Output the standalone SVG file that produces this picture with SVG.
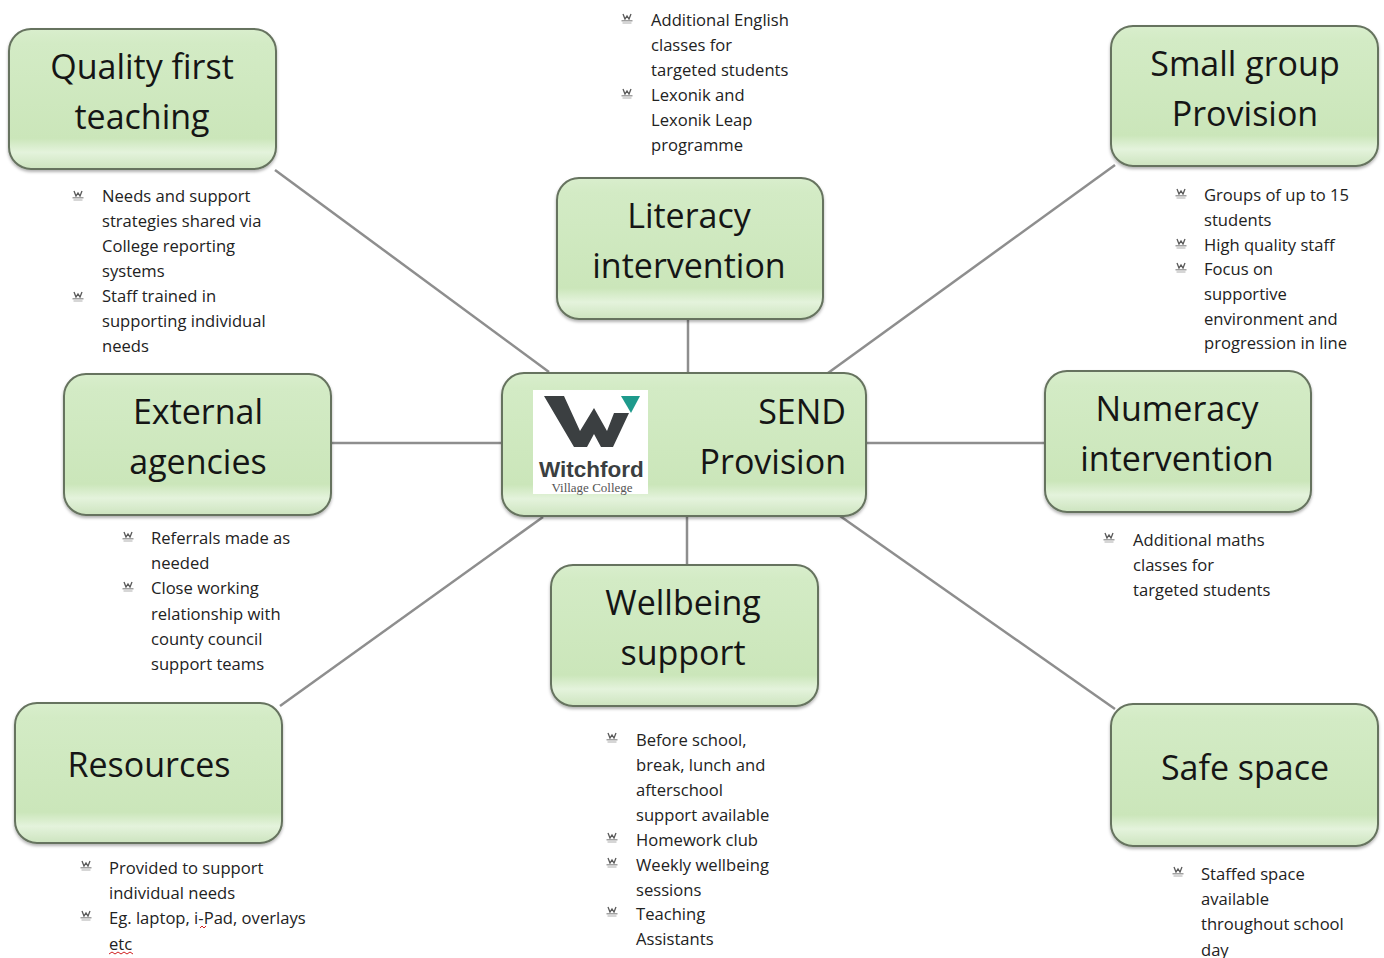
<svg xmlns="http://www.w3.org/2000/svg" xmlns:xlink="http://www.w3.org/1999/xlink" width="1384" height="958" viewBox="0 0 1384 958">
<defs>
<linearGradient id="g" x1="0" y1="0" x2="0" y2="1">
<stop offset="0" stop-color="#d9eecd"/>
<stop offset="0.1" stop-color="#d3ebc5"/>
<stop offset="0.78" stop-color="#cbe6ba"/>
<stop offset="0.88" stop-color="#e4f3dc"/>
<stop offset="1" stop-color="#cde4bf"/>
</linearGradient>
<filter id="sh" x="-10%" y="-10%" width="120%" height="130%">
<feDropShadow dx="0" dy="2" stdDeviation="1.5" flood-color="#000" flood-opacity="0.3"/>
</filter>
<symbol id="b" viewBox="0 0 12 11" width="12" height="11">
<polyline points="2,1 4,6 6,3 8,6 10,1" fill="none" stroke="#5a5a5a" stroke-width="1.3"/>
<line x1="0.5" y1="7.8" x2="11.5" y2="7.8" stroke="#8a8a8a" stroke-width="1.2"/>
<line x1="1.5" y1="10" x2="10.5" y2="10" stroke="#b5b5b5" stroke-width="1.1"/>
</symbol>
</defs>
<style>
.box{fill:url(#g);stroke:#66735f;stroke-width:2;filter:url(#sh)}
.lbl{font-family:"Open Sans","Noto Sans","Liberation Sans",sans-serif;font-size:34px;fill:#151515;text-anchor:middle}
.bt{font-family:"Open Sans","Noto Sans","Liberation Sans",sans-serif;font-size:16.6px;fill:#222222}
.con line{stroke:#8e8e8e;stroke-width:2.5}
</style>
<rect width="1384" height="958" fill="#ffffff"/>
<g id="connectors" class="con">
<line x1="275" y1="170" x2="549" y2="372"/>
<line x1="688" y1="319" x2="688" y2="374"/>
<line x1="1115" y1="165" x2="828" y2="373"/>
<line x1="331" y1="443" x2="503" y2="443"/>
<line x1="865" y1="443" x2="1046" y2="443"/>
<line x1="687" y1="515" x2="687" y2="566"/>
<line x1="543" y1="517" x2="280" y2="706"/>
<line x1="840" y1="516" x2="1115" y2="709"/>
</g>
<g id="send">
<rect class="box" x="502" y="373" width="364" height="143" rx="22"/>
<rect x="533" y="390" width="115" height="104" fill="#ffffff"/>
<polygon points="544,396 564,396 580,431 594,408 607,431 614,413 629,413 613,447 601,447 594,434 587,447 574,447" fill="#3b3f41"/>
<polygon points="621,396 640,396 631,413" fill="#1e9a8c"/>
<text x="539" y="477" font-family="'Liberation Sans',Arial,sans-serif" font-size="22.5" font-weight="bold" fill="#3b3f41">Witchford</text>
<text x="592" y="492" font-family="'Liberation Serif','Times New Roman',serif" font-size="13" fill="#555" text-anchor="middle">Village College</text>
<text class="lbl" x="846" y="424" style="text-anchor:end">SEND</text>
<text class="lbl" x="846" y="474" style="text-anchor:end">Provision</text>
</g>
<g id="quality">
<rect class="box" x="9" y="29" width="267" height="140" rx="22"/>
<text class="lbl" x="142" y="79">Quality first</text>
<text class="lbl" x="142" y="129">teaching</text>
<use href="#b" x="72" y="190"/><use href="#b" x="72" y="291"/>
<text class="bt" x="102" y="202"><tspan x="102">Needs and support</tspan><tspan x="102" dy="25">strategies shared via</tspan><tspan x="102" dy="25">College reporting</tspan><tspan x="102" dy="25">systems</tspan><tspan x="102" dy="25">Staff trained in</tspan><tspan x="102" dy="25">supporting individual</tspan><tspan x="102" dy="25">needs</tspan></text>
</g>
<g id="literacy">
<rect class="box" x="557" y="178" width="266" height="141" rx="22"/>
<text class="lbl" x="689" y="228">Literacy</text>
<text class="lbl" x="689" y="278">intervention</text>
<use href="#b" x="621" y="13"/><use href="#b" x="621" y="88"/>
<text class="bt" x="651" y="26"><tspan x="651">Additional English</tspan><tspan x="651" dy="25">classes for</tspan><tspan x="651" dy="25">targeted students</tspan><tspan x="651" dy="25">Lexonik and</tspan><tspan x="651" dy="25">Lexonik Leap</tspan><tspan x="651" dy="25">programme</tspan></text>
</g>
<g id="smallgroup">
<rect class="box" x="1111" y="26" width="267" height="140" rx="22"/>
<text class="lbl" x="1245" y="76">Small group</text>
<text class="lbl" x="1245" y="126">Provision</text>
<use href="#b" x="1175" y="188"/><use href="#b" x="1175" y="238"/><use href="#b" x="1175" y="262"/>
<text class="bt" x="1204" y="201"><tspan x="1204">Groups of up to 15</tspan><tspan x="1204" dy="25">students</tspan><tspan x="1204" dy="24.5">High quality staff</tspan><tspan x="1204" dy="24.5">Focus on</tspan><tspan x="1204" dy="25">supportive</tspan><tspan x="1204" dy="24.5">environment and</tspan><tspan x="1204" dy="24.5">progression in line</tspan></text>
</g>
<g id="external">
<rect class="box" x="64" y="374" width="267" height="141" rx="22"/>
<text class="lbl" x="198" y="424">External</text>
<text class="lbl" x="198" y="474">agencies</text>
<use href="#b" x="122" y="531"/><use href="#b" x="122" y="581"/>
<text class="bt" x="151" y="544"><tspan x="151">Referrals made as</tspan><tspan x="151" dy="25.2">needed</tspan><tspan x="151" dy="25.2">Close working</tspan><tspan x="151" dy="25.2">relationship with</tspan><tspan x="151" dy="25.2">county council</tspan><tspan x="151" dy="25.2">support teams</tspan></text>
</g>
<g id="numeracy">
<rect class="box" x="1045" y="371" width="266" height="141" rx="22"/>
<text class="lbl" x="1177" y="421">Numeracy</text>
<text class="lbl" x="1177" y="471">intervention</text>
<use href="#b" x="1103" y="532"/>
<text class="bt" x="1133" y="546"><tspan x="1133">Additional maths</tspan><tspan x="1133" dy="25">classes for</tspan><tspan x="1133" dy="25">targeted students</tspan></text>
</g>
<g id="wellbeing">
<rect class="box" x="551" y="565" width="267" height="141" rx="22"/>
<text class="lbl" x="683" y="615">Wellbeing</text>
<text class="lbl" x="683" y="665">support</text>
<use href="#b" x="606" y="732"/><use href="#b" x="606" y="832"/><use href="#b" x="606" y="857"/><use href="#b" x="606" y="906"/>
<text class="bt" x="636" y="746"><tspan x="636">Before school,</tspan><tspan x="636" dy="25">break, lunch and</tspan><tspan x="636" dy="25">afterschool</tspan><tspan x="636" dy="25">support available</tspan><tspan x="636" dy="25">Homework club</tspan><tspan x="636" dy="25">Weekly wellbeing</tspan><tspan x="636" dy="24.5">sessions</tspan><tspan x="636" dy="24.5">Teaching</tspan><tspan x="636" dy="24.5">Assistants</tspan></text>
</g>
<g id="resources">
<rect class="box" x="15" y="703" width="267" height="140" rx="22"/>
<text class="lbl" x="149" y="777">Resources</text>
<use href="#b" x="80" y="860"/><use href="#b" x="80" y="910"/>
<text class="bt" x="109" y="874"><tspan x="109">Provided to support</tspan><tspan x="109" dy="25">individual needs</tspan><tspan x="109" dy="25">Eg. laptop, i-Pad, overlays</tspan><tspan x="109" dy="25.5">etc</tspan></text>
<path d="M109,954 l3,-2 3,2 3,-2 3,2 3,-2 3,2 3,-2 3,2" fill="none" stroke="#d02020" stroke-width="1"/>
<path d="M200,928 l2,-2 2,2 2,-2" fill="none" stroke="#d02020" stroke-width="1"/>
</g>
<g id="safespace">
<rect class="box" x="1111" y="704" width="267" height="142" rx="22"/>
<text class="lbl" x="1245" y="780">Safe space</text>
<use href="#b" x="1172" y="866"/>
<text class="bt" x="1201" y="880"><tspan x="1201">Staffed space</tspan><tspan x="1201" dy="25">available</tspan><tspan x="1201" dy="25">throughout school</tspan><tspan x="1201" dy="25.5">day</tspan></text>
</g>
</svg>
